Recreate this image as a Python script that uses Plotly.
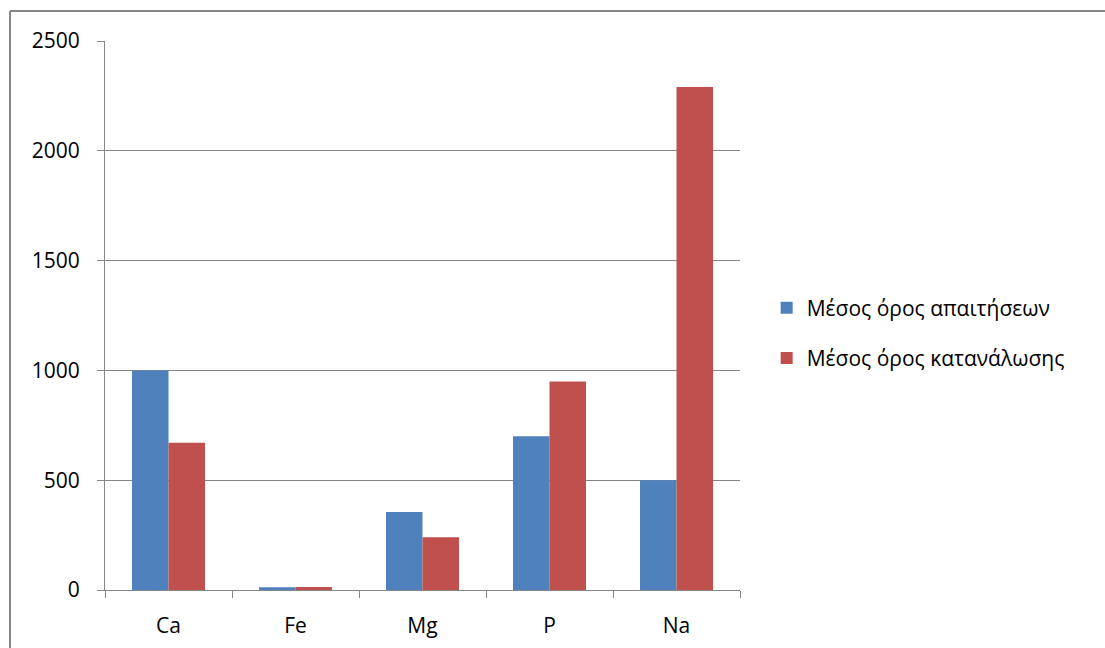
import plotly.graph_objects as go

# Minerals and mean values (mg)
minerals = ["Ca", "Fe", "Mg", "P", "Na"]
requirements = [1000, 12, 355, 700, 500]
consumption = [670, 14, 240, 950, 2290]
series_names = ["Μέσος όρος απαιτήσεων", "Μέσος όρος κατανάλωσης"]
y_ticks = [0, 500, 1000, 1500, 2000, 2500]

BLUE = "#4F81BD"
RED = "#C0504D"
GRID = "#868686"
FONT = "Open Sans"

W, H = 1105, 648
L, R, T, B = 105, 365, 41, 58

fig = go.Figure()
fig.add_trace(go.Bar(x=minerals, y=requirements, name=series_names[0],
                     marker=dict(color=BLUE, line=dict(width=0)), legendgroup="a"))
fig.add_trace(go.Bar(x=minerals, y=consumption, name=series_names[1],
                     marker=dict(color=RED, line=dict(width=0)), legendgroup="b"))

pw = W - L - R
ph = H - T - B

# Outer chart frame (top and left edges visible within the page)
fx = (10 - L) / pw
fy = (H - B - 11) / ph
fig.add_shape(type="line", xref="paper", yref="paper", x0=fx, x1=(W + 5 - L) / pw,
              y0=fy, y1=fy, line=dict(color=GRID, width=2))
fig.add_shape(type="line", xref="paper", yref="paper", x0=fx, x1=fx,
              y0=fy, y1=-(B + 5) / ph, line=dict(color=GRID, width=2))

fig.update_layout(
    width=W, height=H,
    margin=dict(l=L, r=R, t=T, b=B, pad=0, autoexpand=False),
    paper_bgcolor="white", plot_bgcolor="white",
    barmode="group", bargap=0.425, bargroupgap=0,
    font=dict(family=FONT, size=21, color="black"),
    showlegend=True,
    legend=dict(x=1.042, y=0.468, xanchor="left", yanchor="middle",
                font=dict(family=FONT, size=21, color="black"),
                traceorder="grouped", tracegroupgap=20,
                bgcolor="rgba(0,0,0,0)"),
    xaxis=dict(type="category", showgrid=False, showline=True, linecolor=GRID,
               linewidth=1, ticks="outside", tickson="boundaries", ticklen=7,
               tickcolor=GRID, ticklabelstandoff=17, range=[-0.5, 4.5],
               automargin=False),
    yaxis=dict(range=[0, 2500], tickvals=y_ticks, showgrid=True, gridcolor=GRID,
               gridwidth=1, showline=True, linecolor=GRID, linewidth=1,
               ticks="outside", ticklen=7, tickcolor=GRID, ticklabelstandoff=13,
               zeroline=False, automargin=False),
)

fig.write_html("out.html")
